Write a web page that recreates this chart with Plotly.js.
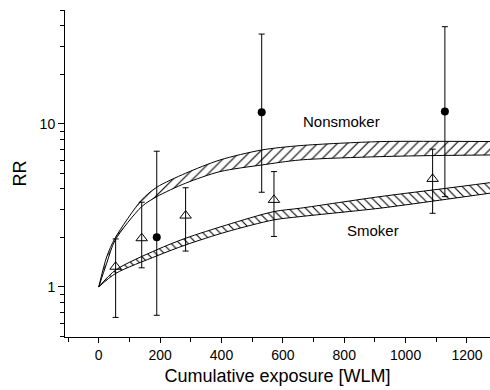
<!DOCTYPE html>
<html>
<head>
<meta charset="utf-8">
<script src="https://cdn.plot.ly/plotly-3.0.1.min.js"></script>
<style>html,body{margin:0;padding:0;background:#fff;}#chart{width:490px;height:390px;}</style>
</head>
<body>
<div id="chart"></div>
<script>
// Band edges (fitted model ranges)
const nonsmokerUpperX = [0, 26, 53, 140, 189, 283, 395, 531, 656, 916, 1100, 1275];
const nonsmokerUpperY = [1, 1.53, 1.99, 3.42, 4.09, 4.98, 6.01, 6.92, 7.36, 7.79, 7.82, 7.8];
const nonsmokerLowerX = [0, 26, 53, 140, 189, 283, 395, 531, 656, 916, 1100, 1275];
const nonsmokerLowerY = [1, 1.40, 1.93, 3.11, 3.58, 4.33, 5.10, 5.60, 6.01, 6.30, 6.40, 6.45];
const smokerUpperX = [0, 55, 189, 283, 417, 571, 656, 916, 1133, 1275];
const smokerUpperY = [1, 1.27, 1.69, 1.99, 2.40, 2.90, 3.04, 3.58, 4.03, 4.36];
const smokerLowerX = [0, 55, 189, 283, 417, 571, 656, 916, 1133, 1275];
const smokerLowerY = [1, 1.21, 1.55, 1.81, 2.18, 2.58, 2.70, 3.04, 3.45, 3.76];

// Observed points
const nonsmokerX = [189, 531, 1128];
const nonsmokerRR = [2.02, 11.8, 11.9];
const nonsmokerHi = [6.8, 35.6, 39.5];
const nonsmokerLo = [0.67, 3.81, 3.58];

const smokerX = [55, 140, 283, 571, 1088];
const smokerRR = [1.33, 1.99, 2.74, 3.42, 4.60];
const smokerHi = [1.97, 3.31, 4.06, 5.10, 7.0];
const smokerLo = [0.65, 1.31, 1.66, 2.04, 2.83];

const labelText = ["Nonsmoker", "Smoker"];
const labelX = [791, 894];
const labelY = [10.3, 2.21];

const xTickVals = [0, 200, 400, 600, 800, 1000, 1200];
const yTickVals = [1, 10];
const yMinorVals = [0.5, 0.6, 0.7, 0.8, 0.9, 2, 3, 4, 5, 6, 7, 8, 9, 20, 30, 40, 50];

const FONT = "'Liberation Sans', Arial, sans-serif";
const edge = {color: 'black', width: 1, shape: 'spline', smoothing: 0.8};

const traces = [
  {x: nonsmokerLowerX, y: nonsmokerLowerY, mode: 'lines', line: edge, hoverinfo: 'skip', showlegend: false},
  {x: nonsmokerUpperX, y: nonsmokerUpperY, mode: 'lines', line: edge, fill: 'tonexty',
   fillcolor: 'white',
   fillpattern: {shape: '/', fgcolor: 'black', bgcolor: 'white', size: 7, solidity: 0.16},
   hoverinfo: 'skip', showlegend: false},
  {x: smokerLowerX, y: smokerLowerY, mode: 'lines', line: edge, hoverinfo: 'skip', showlegend: false},
  {x: smokerUpperX, y: smokerUpperY, mode: 'lines', line: edge, fill: 'tonexty',
   fillcolor: 'white',
   fillpattern: {shape: '\\', fgcolor: 'black', bgcolor: 'white', size: 6, solidity: 0.18},
   hoverinfo: 'skip', showlegend: false},
  {x: smokerX, y: smokerRR, mode: 'markers', showlegend: false,
   marker: {symbol: 'triangle-up-open', size: 10, color: 'black', line: {width: 1, color: 'black'}},
   error_y: {type: 'data', symmetric: false,
     array: smokerHi.map((h, i) => h - smokerRR[i]),
     arrayminus: smokerLo.map((l, i) => smokerRR[i] - l),
     color: 'black', thickness: 1, width: 3}},
  {x: nonsmokerX, y: nonsmokerRR, mode: 'markers', showlegend: false,
   marker: {symbol: 'circle', size: 8, color: 'black'},
   error_y: {type: 'data', symmetric: false,
     array: nonsmokerHi.map((h, i) => h - nonsmokerRR[i]),
     arrayminus: nonsmokerLo.map((l, i) => nonsmokerRR[i] - l),
     color: 'black', thickness: 1, width: 3}}
];

const layout = {
  width: 490, height: 390,
  margin: {l: 65, r: 0, t: 10, b: 53},
  paper_bgcolor: 'white', plot_bgcolor: 'white',
  font: {family: FONT, color: 'black', size: 14},
  xaxis: {
    range: [-110, 1275], showgrid: false, zeroline: false,
    showline: true, linecolor: 'black', linewidth: 1,
    ticks: 'outside', ticklen: 5, tickcolor: 'black',
    tickmode: 'array', tickvals: xTickVals,
    minor: {dtick: 100, tick0: 0, ticks: 'outside', ticklen: 4, tickcolor: 'black'},
    tickfont: {size: 14},
    title: {text: 'Cumulative exposure [WLM]', font: {size: 18}, standoff: 7}
  },
  yaxis: {
    type: 'log', range: [Math.log10(0.493), Math.log10(50)],
    showgrid: false, zeroline: false,
    showline: true, linecolor: 'black', linewidth: 1,
    ticks: 'outside', ticklen: 6, tickcolor: 'black',
    tickmode: 'array', tickvals: yTickVals, ticktext: yTickVals.map(String),
    minor: {tickmode: 'array', tickvals: yMinorVals, ticks: 'outside', ticklen: 4, tickcolor: 'black'},
    tickfont: {size: 14},
    title: {text: 'RR', font: {size: 18}, standoff: 8}
  },
  annotations: labelText.map((t, i) => ({
    text: t, x: labelX[i], y: Math.log10(labelY[i]), xref: 'x', yref: 'y',
    showarrow: false, font: {size: 15, family: FONT}
  }))
};

Plotly.newPlot('chart', traces, layout, {displayModeBar: false, staticPlot: true});
</script>
</body>
</html>
